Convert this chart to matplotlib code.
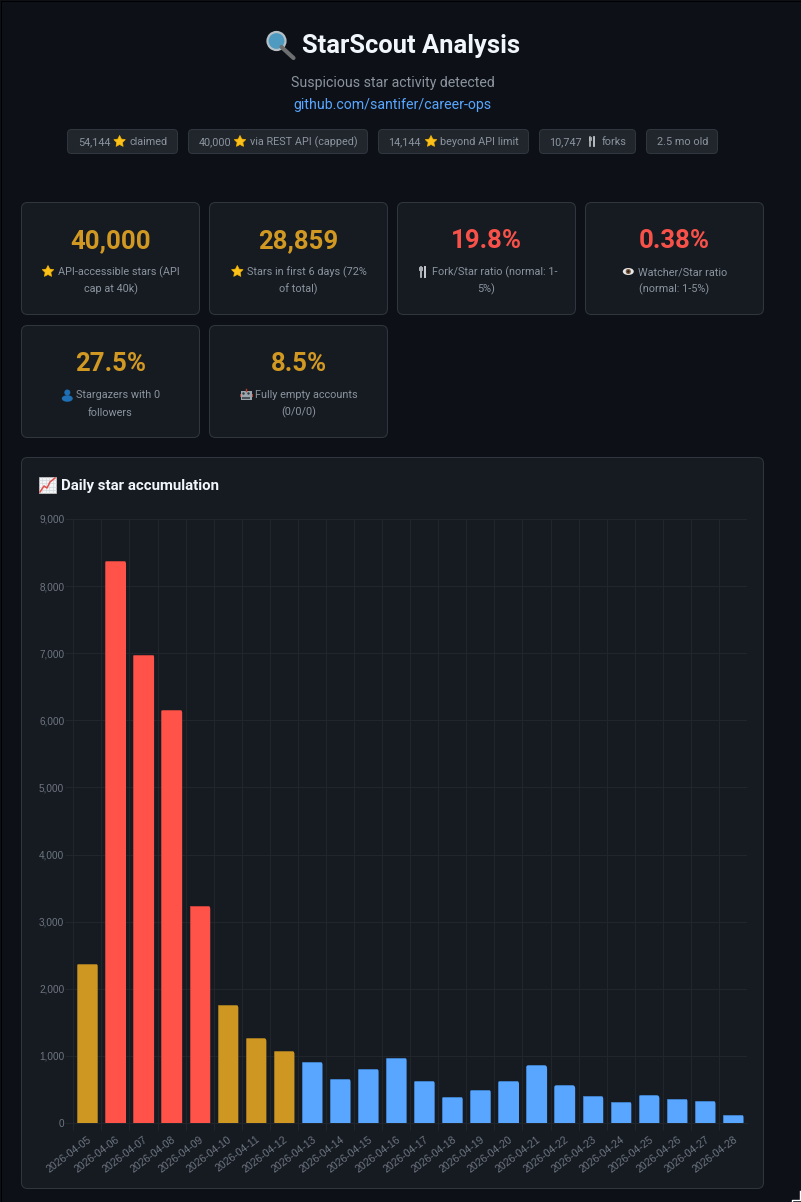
import matplotlib
matplotlib.use('Agg')
import matplotlib.pyplot as plt
from matplotlib.patches import FancyBboxPatch, Circle, Ellipse, Polygon, Rectangle
from matplotlib.path import Path
from matplotlib.transforms import IdentityTransform
from matplotlib.ticker import FuncFormatter
import numpy as np

# Data
days = ['2026-04-05', '2026-04-06', '2026-04-07', '2026-04-08', '2026-04-09', '2026-04-10',
		'2026-04-11', '2026-04-12', '2026-04-13', '2026-04-14', '2026-04-15', '2026-04-16',
		'2026-04-17', '2026-04-18', '2026-04-19', '2026-04-20', '2026-04-21', '2026-04-22',
		'2026-04-23', '2026-04-24', '2026-04-25', '2026-04-26', '2026-04-27', '2026-04-28']
stars = [2370, 8375, 6980, 6155, 3234, 1758, 1262, 1070, 909, 655, 805, 970,
		 625, 387, 490, 625, 857, 559, 402, 320, 410, 365, 328, 124]
bar_levels = ['y', 'r', 'r', 'r', 'r', 'y', 'y', 'y'] + ['b'] * 16

pill_left = ['54,144', '40,000', '14,144', '10,747', '2.5 mo old']
pill_right = ['claimed', 'via REST API (capped)', 'beyond API limit', 'forks', '']
card_values = ['40,000', '28,859', '19.8%', '0.38%', '27.5%', '8.5%']
card_lines = [['API-accessible stars (API', 'cap at 40k)'],
			  ['Stars in first 6 days (72%', 'of total)'],
			  ['Fork/Star ratio (normal: 1-', '5%)'],
			  ['Watcher/Star ratio', '(normal: 1-5%)'],
			  ['Stargazers with 0', 'followers'],
			  ['Fully empty accounts', '(0/0/0)']]
card_colors = ['#d29922', '#d29922', '#f85149', '#f85149', '#d29922', '#d29922']
card_icons = ['star', 'star', 'fork', 'eye', 'person', 'robot']

BG = '#0d1117'
CARD = '#161b22'
BORDER = '#30363d'
MUTED = '#8b949e'
COLORS = {'y': '#cd9721', 'r': '#ff5349', 'b': '#58a6ff'}
EDGES = {'y': '#9a7420', 'r': '#c5423c', 'b': '#3f7fc8'}
PX = 0.72  # one pixel in points

plt.rcParams['font.family'] = ['Roboto', 'DejaVu Sans']

fig = plt.figure(figsize=(8.01, 12.02), dpi=100, facecolor=BG)

# Overlay axes in pixel coordinates for the page furniture
page = fig.add_axes([0, 0, 1, 1], zorder=0)
page.set_xlim(0, 801)
page.set_ylim(1202, 0)
page.axis('off')


def box(x, y, w, h, face, edge=BORDER, r=6):
	page.add_patch(FancyBboxPatch((x + r, y + r), w - 2 * r, h - 2 * r,
								  boxstyle='round,pad=%g,rounding_size=%g' % (r, r),
								  facecolor=face, edgecolor=edge, linewidth=PX))


def star(cx, cy, r=6):
	angles = np.pi / 2 + np.arange(10) * np.pi / 5
	radii = np.where(np.arange(10) % 2 == 0, r, r * 0.5)
	pts = np.column_stack([cx + radii * np.cos(angles), cy - radii * np.sin(angles)])
	page.add_patch(Polygon(pts, closed=True, facecolor='#fcc21b', edgecolor='#f7b500', linewidth=0.5, joinstyle='round'))


def fork(cx, cy, s=1.0):
	page.plot([cx - 2.2 * s, cx - 2.2 * s], [cy - 5 * s, cy + 5 * s], color='#c9cdd2', lw=1.2 * s)
	page.plot([cx + 2.2 * s, cx + 2.2 * s], [cy - 5 * s, cy + 5 * s], color='#c9cdd2', lw=1.4 * s)
	page.plot([cx - 3.4 * s, cx - 3.4 * s], [cy - 5 * s, cy - 1.5 * s], color='#c9cdd2', lw=0.6 * s)
	page.plot([cx - 1.0 * s, cx - 1.0 * s], [cy - 5 * s, cy - 1.5 * s], color='#c9cdd2', lw=0.6 * s)


def eye(cx, cy):
	page.add_patch(Ellipse((cx, cy), 11, 7, facecolor='#e8e8e8', edgecolor='none'))
	page.add_patch(Circle((cx, cy), 2.6, facecolor='#7b5a3c', edgecolor='none'))
	page.add_patch(Circle((cx, cy), 1.2, facecolor='#222222', edgecolor='none'))


def person(cx, cy):
	page.add_patch(Circle((cx, cy - 2), 3, facecolor='#1f6fb5', edgecolor='none'))
	page.add_patch(Ellipse((cx, cy + 4), 11, 6.5, facecolor='#1f6fb5', edgecolor='none'))


def robot(cx, cy):
	page.add_patch(Rectangle((cx - 5.5, cy - 4), 11, 9, facecolor='#9aa5ad', edgecolor='none'))
	page.add_patch(Rectangle((cx - 6.5, cy - 1), 1, 3, facecolor='#c0392b', edgecolor='none'))
	page.add_patch(Rectangle((cx + 5.5, cy - 1), 1, 3, facecolor='#c0392b', edgecolor='none'))
	page.add_patch(Rectangle((cx - 4, cy + 2), 8, 2, facecolor='#4a5258', edgecolor='none'))
	page.add_patch(Circle((cx - 2.5, cy - 1), 1.2, facecolor='#2d3a42', edgecolor='none'))
	page.add_patch(Circle((cx + 2.5, cy - 1), 1.2, facecolor='#2d3a42', edgecolor='none'))
	page.plot([cx, cx], [cy - 6, cy - 4], color='#c0392b', lw=1)


def magnifier(cx, cy):
	page.plot([cx + 3, cx + 15], [cy + 3, cy + 14], color='#6d6f70', lw=3, solid_capstyle='round')
	page.add_patch(Circle((cx - 2, cy - 3), 9, facecolor='#4f9ac0', edgecolor='#b5c0c6', linewidth=1.6))


def chart_icon(x, y):
	page.add_patch(Rectangle((x, y), 17, 16, facecolor='#f4f4f4', edgecolor='#c9c9c9', linewidth=0.5))
	for k in range(1, 5):
		page.plot([x + k * 3.4, x + k * 3.4], [y, y + 16], color='#c9d3dc', lw=0.4)
		page.plot([x, x + 17], [y + k * 3.2, y + k * 3.2], color='#c9d3dc', lw=0.4)
	page.plot([x + 1, x + 5, x + 8, x + 11, x + 16], [y + 15, y + 9, y + 11, y + 5, y + 1], color='#e2504a', lw=1.1)


ICONS = {'star': star, 'fork': fork, 'eye': eye, 'person': person, 'robot': robot}

# Thin dark frame round the page
page.add_patch(Rectangle((0.5, 0.5), 800, 1201, facecolor='none', edgecolor='#000000', linewidth=PX))

# Header
magnifier(278.5, 44)
page.text(411.5, 45.5, 'StarScout Analysis', color='#f0f6fc', fontsize=18.4, fontweight='bold', ha='center', va='center')
page.text(392.5, 82.5, 'Suspicious star activity detected', color=MUTED, fontsize=10.15, ha='center', va='center')
page.text(392.5, 104.5, 'github.com/santifer/career-ops', color='#58a6ff', fontsize=10.2, ha='center', va='center')

# Pills
pill_x = [67.5, 188.5, 378.5, 539.5, 646.5]
pill_w = [110, 179, 150, 96, 71]
pill_text_x = [78, 198.5, 388.5, 549.5, 656.7]
pill_icon_x = [119.6, 240, 431, 591.7, None]
pill_right_x = [129.3, 250, 440, 601.4, None]
for i in range(5):
	box(pill_x[i], 129.5, pill_w[i], 24, '#21262d', BORDER, r=4)
	page.text(pill_text_x[i], 142, pill_left[i], color=MUTED, fontsize=7.85, ha='left', va='center')
	if pill_icon_x[i] is not None:
		page.text(pill_right_x[i], 142, pill_right[i], color=MUTED, fontsize=7.85, ha='left', va='center')
		if pill_left[i] == '10,747':
			fork(pill_icon_x[i], 141.5, 0.9)
		else:
			star(pill_icon_x[i], 141.5)

# Stat cards
card_x = [21.5, 209.5, 397.5, 585.5, 21.5, 209.5]
card_y = [202.5, 202.5, 202.5, 202.5, 325.5, 325.5]
icon_x = [48, 237.3, 422.7, 628.3, 67.3, 246]
for i in range(6):
	x, y = card_x[i], card_y[i]
	box(x, y, 178, 112, CARD)
	page.text(x + 89, y + 38.5, card_values[i], color=card_colors[i], fontsize=18.5, fontweight='bold', ha='center', va='center')
	l1, l2 = card_lines[i]
	page.text(x + 97, y + 70, l1, color=MUTED, fontsize=7.85, ha='center', va='center')
	page.text(x + 89, y + 87, l2, color=MUTED, fontsize=7.85, ha='center', va='center')
	ICONS[card_icons[i]](icon_x[i], y + 69)

# Chart panel
box(21.5, 457.5, 742, 731, CARD)
chart_icon(39, 477)
page.text(60.8, 486, 'Daily star accumulation', color='#f0f6fc', fontsize=10.8, fontweight='bold', ha='left', va='center')

# Corner mark
page.plot([792, 792, 799.5, 799.5], [1202, 1199.5, 1199.5, 1191], color='white', lw=1)

# Chart axes: pixel extents are 73.3..747 across and 519..1123 down
left, right, top, bottom = 73.3, 747.0, 519.0, 1123.0
ax = fig.add_axes([left / 801, 1 - bottom / 1202, (right - left) / 801, (bottom - top) / 1202], zorder=1)
ax.patch.set_alpha(0)
x = np.arange(len(days))
bars = ax.bar(x, stars, width=0.72, color=[COLORS[k] for k in bar_levels],
			  edgecolor=[EDGES[k] for k in bar_levels], linewidth=PX, zorder=3)
ax.set_xlim(-0.5, len(days) - 0.5)
ax.set_ylim(0, 9000)
ax.set_yticks(np.arange(0, 9001, 1000))
ax.yaxis.set_major_formatter(FuncFormatter(lambda v, p: '{:,.0f}'.format(v)))
ax.set_xticks(x)
ax.set_xticklabels(days, rotation=37, ha='right', rotation_mode='anchor', fontsize=7.5,
				   color='#6e7681', family=['Liberation Sans', 'DejaVu Sans'])
ax.set_xticks(x - 0.5, minor=True)
ax.tick_params(axis='x', which='major', length=0, pad=8)
ax.tick_params(axis='x', which='minor', length=5, width=PX, color='#21262d')
ax.tick_params(axis='y', length=5.8, width=PX, color='#21262d', labelcolor='#6e7681', pad=0.7, labelsize=7.2)
for lab in ax.get_yticklabels():
	lab.set_family(['Liberation Sans', 'DejaVu Sans'])
ax.grid(True, axis='y', color='#21262d', lw=PX, zorder=0)
ax.grid(True, axis='x', which='minor', color='#21262d', lw=PX, zorder=0)
for s in ['top', 'right']:
	ax.spines[s].set_visible(False)
for s in ['bottom', 'left']:
	ax.spines[s].set_color('#21262d')
	ax.spines[s].set_linewidth(PX)

# Round the top corners of the bars
fig.canvas.draw()
for b in bars:
	(x0, y0), (x1, y1) = ax.transData.transform([(b.get_x(), 0), (b.get_x() + b.get_width(), b.get_height())])
	x0, x1, y1 = x0 - 0.5, x1 + 0.5, y1 + 0.5
	r = 3.5
	verts = [(x0, y0 - 3), (x0, y1 - r), (x0, y1), (x0 + r, y1), (x1 - r, y1), (x1, y1), (x1, y1 - r), (x1, y0 - 3), (x0, y0 - 3)]
	codes = [Path.MOVETO, Path.LINETO, Path.CURVE3, Path.CURVE3, Path.LINETO, Path.CURVE3, Path.CURVE3, Path.LINETO, Path.CLOSEPOLY]
	b.set_clip_path(Path(verts, codes), IdentityTransform())

fig.savefig('out.png', dpi=100, facecolor=BG)
